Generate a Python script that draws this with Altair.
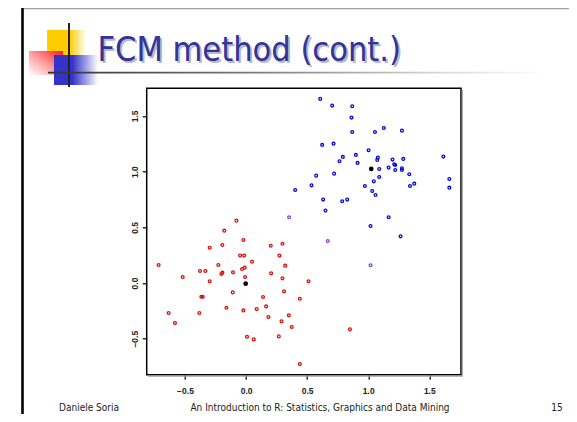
import altair as alt
import pandas as pd

# ---- data ----
red_x = [-0.079, -0.178, -0.022, -0.298, -0.194, 0.202, 0.298, -0.049, -0.016, 0.273,
         0.049, -0.716, -0.227, 0.320, -0.377, -0.333, -0.194, -0.202, -0.107, -0.033,
         -0.011, 0.205, -0.519, -0.008, 0.298, -0.298, 0.511, -0.109, 0.311, -0.366,
         -0.355, 0.139, 0.440, -0.634, -0.383, -0.161, -0.022, 0.087, 0.164, 0.183,
         0.350, 0.290, -0.582, 0.374, 0.850, 0.008, 0.063, 0.268, 0.440]
red_y = [0.560, 0.470, 0.386, 0.317, 0.341, 0.335, 0.353, 0.246, 0.246, 0.246,
         0.192, 0.162, 0.162, 0.156, 0.108, 0.108, 0.093, 0.081, 0.096, 0.126,
         0.138, 0.087, 0.054, 0.054, 0.042, 0.015, 0.015, -0.084, -0.075, -0.123,
         -0.123, -0.126, -0.141, -0.269, -0.269, -0.222, -0.246, -0.234, -0.210, -0.305,
         -0.290, -0.344, -0.359, -0.395, -0.416, -0.482, -0.506, -0.479, -0.728]

blue_x = [0.607, 0.705, 0.869, 0.863, 0.869, 1.055, 1.128, 1.276, 0.623, 0.716,
          1.003, 0.899, 0.792, 0.765, 0.913, 1.079, 1.074, 1.199, 1.287, 1.615,
          1.221, 1.213, 1.090, 1.167, 1.221, 1.276, 1.276, 1.336, 0.574, 0.721,
          1.090, 1.046, 0.973, 1.342, 1.377, 1.664, 1.664, 0.402, 0.536, 1.033,
          1.060, 0.631, 0.787, 0.828, 0.650, 1.167, 1.019, 1.265]
blue_y = [1.653, 1.593, 1.587, 1.485, 1.356, 1.356, 1.392, 1.368, 1.240, 1.251,
          1.192, 1.150, 1.132, 1.093, 1.078, 1.126, 1.105, 1.108, 1.114, 1.135,
          1.060, 1.066, 1.024, 1.036, 1.015, 1.030, 1.015, 0.976, 0.964, 0.982,
          0.952, 0.913, 0.871, 0.871, 0.892, 0.934, 0.856, 0.835, 0.877, 0.826,
          0.790, 0.749, 0.734, 0.749, 0.650, 0.590, 0.512, 0.419]

mixed_x = [0.352, 0.669, 1.019]
mixed_y = [0.590, 0.377, 0.159]

center_x = [-0.003, 1.025]
center_y = [-0.006, 1.024]

x_ticks = [-0.5, 0.0, 0.5, 1.0, 1.5]
y_ticks = [-0.5, 0.0, 0.5, 1.0, 1.5]

title_text = "FCM method (cont.)"
footer_left = "Daniele Soria"
footer_mid = "An Introduction to R: Statistics, Graphics and Data Mining"
footer_right = "15"

groups = ["cluster 1", "cluster 2", "mixed"]
group_colors = ["#dd1010", "#0808d8", "#8a44d0"]

pts = pd.DataFrame({
    "x": red_x + blue_x + mixed_x,
    "y": red_y + blue_y + mixed_y,
    "g": [groups[0]] * len(red_x) + [groups[1]] * len(blue_x) + [groups[2]] * len(mixed_x),
})
ctr = pd.DataFrame({"x": center_x, "y": center_y})

# ---- layout (page pixels) ----
PL, PT = 146.7, 88.3          # plot-area origin on page
PW, PH = 314.3, 286.4
TOTAL_W, TOTAL_H = 561, 406

def X(px):
    return px - PL

def Y(py):
    return py - PT

TFONT = "Tahoma, 'DejaVu Sans Condensed', 'Liberation Sans', sans-serif"
AFONT = "'Liberation Sans', Arial, sans-serif"

xs = alt.Scale(domain=[-0.8135, 1.7596], nice=False, zero=False)
ys = alt.Scale(domain=[-0.823, 1.748], nice=False, zero=False)

x_axis = alt.Axis(values=x_ticks, format=".1f", grid=False, domain=False, title=None,
                  tickSize=4.5, tickColor="black", tickWidth=1.2, labelPadding=7,
                  labelFont=AFONT, labelFontSize=8.5, labelFontWeight="bold", labelColor="#222")
y_axis = alt.Axis(values=y_ticks, format=".1f", grid=False, domain=False, title=None,
                  tickSize=4.5, tickColor="black", tickWidth=1.2, labelPadding=3,
                  labelAngle=-90, labelAlign="center", labelBaseline="bottom",
                  labelFont=AFONT, labelFontSize=8.5, labelFontWeight="bold", labelColor="#222")

points = alt.Chart(pts).mark_point(shape="circle", size=8, strokeWidth=1.3, filled=False, opacity=1).encode(
    x=alt.X("x:Q", scale=xs, axis=x_axis),
    y=alt.Y("y:Q", scale=ys, axis=y_axis),
    color=alt.Color("g:N", scale=alt.Scale(domain=groups, range=group_colors), legend=None),
)
centers = alt.Chart(ctr).mark_circle(size=22, color="black", opacity=1).encode(
    x=alt.X("x:Q", scale=xs), y=alt.Y("y:Q", scale=ys))

one = pd.DataFrame({"k": [0]})

def rect(x1, x2, y1, y2, fill):
    return alt.Chart(one).mark_rect(fill=fill, strokeWidth=0).encode(
        x=alt.value(X(x1)), x2=alt.value(X(x2)), y=alt.value(Y(y1)), y2=alt.value(Y(y2)))

def hgrad(stops):
    return alt.Gradient(gradient="linear", x1=0, x2=1, y1=0, y2=0,
                        stops=[alt.GradientStop(color=c, offset=o) for o, c in stops])

def vrule(x, y1, y2, color, w):
    return alt.Chart(one).mark_rule(color=color, strokeWidth=w).encode(
        x=alt.value(X(x)), y=alt.value(Y(y1)), y2=alt.value(Y(y2)))

def hrule(y, x1, x2, color, w):
    return alt.Chart(one).mark_rule(color=color, strokeWidth=w).encode(
        y=alt.value(Y(y)), x=alt.value(X(x1)), x2=alt.value(X(x2)))

def text(s, x, y, size, color, align="left", baseline="alphabetic", font=TFONT, weight="normal"):
    return alt.Chart(one).mark_text(text=s, align=align, baseline=baseline, font=font,
                                    fontSize=size, color=color, fontWeight=weight).encode(
        x=alt.value(X(x)), y=alt.value(Y(y)))

# slide frame
frame_top = hrule(7, 21.5, 580, "black", 2.6)
frame_top2 = hrule(8.8, 23, 580, "#9a9a9a", 1)
frame_left = vrule(22.5, 6, 430, "black", 2.6)

# logo
yellow = rect(47, 86, 30, 57, hgrad([(0, "#ffcc00"), (0.58, "#ffcc00"), (1, "#ffffff")]))
blue = rect(54, 98, 55, 85, hgrad([(0, "#3333cc"), (0.42, "#3333cc"), (1, "#ffffff")]))
red = rect(29, 63, 51, 75, alt.Gradient(gradient="linear", x1=1, y1=0, x2=0, y2=1,
                                        stops=[alt.GradientStop(color="#ff1a1a", offset=0),
                                               alt.GradientStop(color="#ff9a9a", offset=0.5),
                                               alt.GradientStop(color="#ffffff", offset=1)]))
logo_v = vrule(69, 23, 87, "#222222", 2)
title_line = rect(48, 548, 71.8, 73.4, hgrad([(0, "#333333"), (0.4, "#777777"), (0.75, "#d0d0d0"), (1, "#ffffff")]))

title_shadow = text(title_text, 99.5, 62.5, 34, "#b8b8c8")
title = text(title_text, 97.5, 60.5, 34, "#333399")

f_left = text(footer_left, 59, 411, 10, "#222222")
f_mid = text(footer_mid, 320, 411, 10, "#222222", align="center")
f_right = text(footer_right, 557, 411, 10, "#222222", align="center")

# plot shadow
shadow_r = vrule(462.3, 90, 376.5, "#a0a0a0", 1.2)
shadow_b = hrule(376.2, 148, 462.5, "#a0a0a0", 1.2)

chart = alt.layer(
    frame_top, frame_top2, frame_left, yellow, red, blue, logo_v, title_line,
    title_shadow, title, f_left, f_mid, f_right, shadow_r, shadow_b,
    points, centers,
).properties(
    width=PW, height=PH,
    autosize=alt.AutoSizeParams(type="none"),
    padding={"left": PL - 8, "top": PT - 8,
             "right": TOTAL_W - (PL - 8) - PW, "bottom": TOTAL_H - (PT - 8) - PH},
    background="white",
).configure_view(stroke="black", strokeWidth=1.5)

chart.save("out.html", embed_options={"renderer": "svg", "actions": False})
